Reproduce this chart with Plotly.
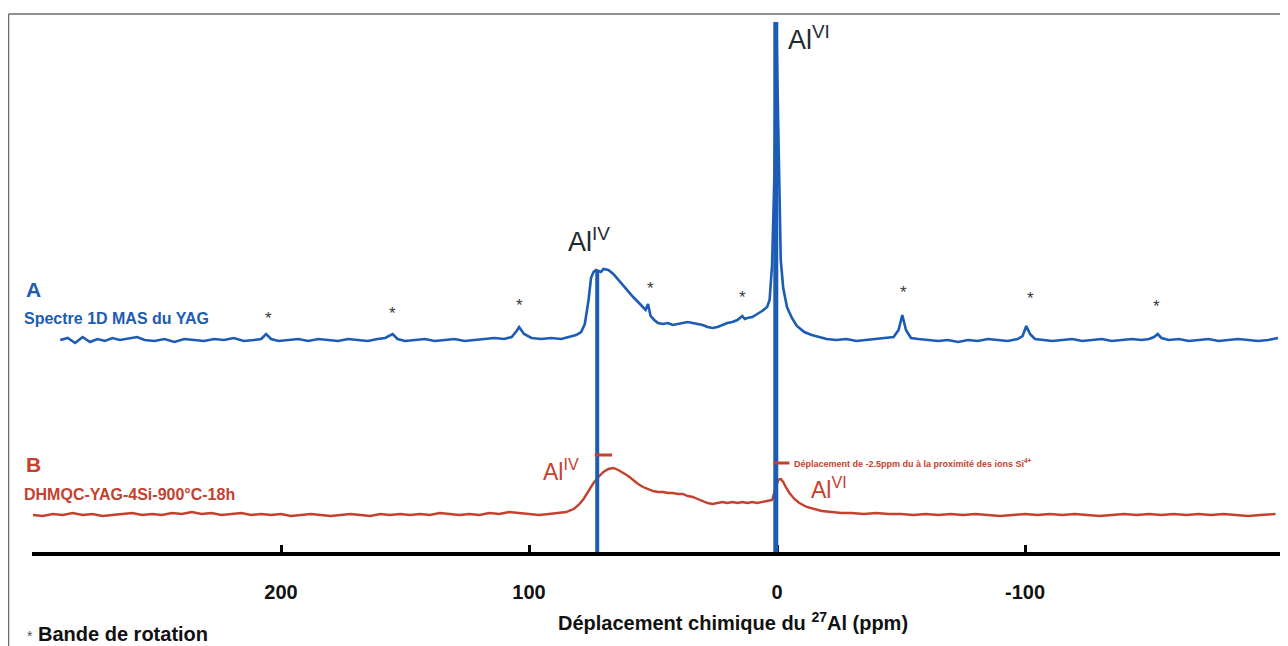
import plotly.graph_objects as go

# ---------------- data ----------------
# Spectrum A: 1D MAS 27Al of YAG (intensity relative to its baseline, arbitrary units)
blue_ppm = [289, 286, 283, 280, 277, 274, 271, 268, 265, 262,
            258, 255, 251, 247, 243, 239, 235, 231, 227, 223,
            219, 215, 211, 208, 206, 204, 201, 197, 193, 189,
            185, 181, 177, 173, 169, 165, 161, 158, 155, 153,
            150, 146, 142, 138, 134, 130, 126, 122, 118, 114,
            110, 107, 105, 104, 102, 99, 95, 91, 87, 84,
            81, 79, 77.5, 76, 75, 74, 73, 72, 71, 70,
            68, 66, 64, 62, 60, 58, 56, 54, 53, 52,
            51, 49.5, 48, 46, 44, 42, 40, 38, 36, 34,
            32, 30, 28, 26, 24, 22, 20, 18, 16, 14,
            13, 12, 10, 8, 6, 4, 3, 2, 1, 0.3,
            -0.5, -1.5, -2.5, -4, -6, -8, -11, -14, -17, -20,
            -24, -28, -32, -36, -40, -44, -47, -49, -50.5, -52,
            -54, -57, -61, -65, -69, -73, -77, -81, -85, -89,
            -93, -97, -99, -100.5, -102, -104, -107, -111, -115, -119,
            -123, -127, -131, -135, -139, -143, -147, -150, -152, -153.5,
            -155, -158, -162, -166, -170, -174, -178, -182, -186, -190,
            -194, -198, -202]
blue_int = [0, 2, -3, 3, -2, 1, -1, 2, 0, 1,
            3, 0, -1, 1, -2, 1, 0, -1, 1, 0,
            2, -1, 0, 1, 6, 1, -1, 0, 1, -1,
            1, 0, -1, 1, 0, -1, 1, 2, 6, 1,
            -1, 0, 1, -1, 0, 1, -1, 0, 1, 2,
            1, 3, 9, 13, 6, 2, 1, 2, 1, 3,
            5, 8, 16, 40, 62, 68, 70, 69, 68, 71,
            70, 66, 60, 54, 48, 43, 38, 33, 30, 36,
            24, 20, 17, 16, 17, 15, 16, 17, 18, 17,
            16, 15, 13, 12, 13, 15, 17, 18, 20, 24,
            21, 22, 23, 26, 29, 33, 40, 75, 170, 320,
            200, 80, 52, 33, 22, 14, 8, 5, 3, 1,
            0, 1, -1, 0, 1, 2, 3, 10, 25, 10,
            2, 1, 0, -1, 0, -2, 0, -1, 1, 0,
            -1, 1, 4, 14, 6, 1, 0, -1, 0, 1,
            -1, 0, 1, -1, 0, 1, 0, 1, 3, 6,
            2, 0, 1, -1, 0, 1, -1, 0, 1, 0,
            -1, 0, 2]

# Spectrum B: DHMQC YAG-4Si 900 C 18 h (intensity relative to its baseline)
red_ppm = [300, 296, 292, 288, 284, 280, 276, 272, 268, 264,
           260, 256, 252, 248, 244, 240, 236, 232, 228, 224,
           220, 216, 212, 208, 204, 200, 196, 192, 188, 184,
           180, 176, 172, 168, 164, 160, 156, 152, 148, 144,
           140, 136, 132, 128, 124, 120, 116, 112, 108, 104,
           100, 96, 92, 88, 85, 82, 80, 78, 76, 74,
           72, 70, 68, 66, 64, 62, 60, 58, 56, 54,
           52, 50, 48, 46, 44, 42, 40, 38, 36, 34,
           32, 30, 28, 26, 24, 22, 20, 18, 16, 14,
           12, 10, 8, 6, 4, 2, 0.5, -0.5, -1.5, -2.5,
           -3.5, -5, -7, -9, -12, -15, -18, -22, -26, -30,
           -35, -40, -45, -50, -55, -60, -65, -70, -75, -80,
           -85, -90, -95, -100, -105, -110, -115, -120, -125, -130,
           -135, -140, -145, -150, -155, -160, -165, -170, -175, -180,
           -185, -190, -195, -201]
red_int = [0, -1, 1, 0, 2, 0, 1, -1, 0, 1,
           2, 0, 1, 0, 2, 1, 3, 1, 2, 0,
           1, 2, 0, 1, 0, 1, -1, 0, 1, 0,
           -1, 0, 1, 0, -1, 1, 0, 1, 0, 1,
           0, 2, 1, 0, 1, 0, 2, 1, 3, 2,
           1, 0, 1, 2, 3, 6, 10, 16, 24, 32,
           38, 43, 46, 47, 45, 42, 39, 35, 31, 28,
           26, 24, 23, 23, 22, 22, 21, 21, 19, 18,
           16, 14, 12, 11, 12, 13, 12, 13, 12, 13,
           12, 13, 12, 13, 14, 15, 28, 35, 36, 33,
           28, 22, 16, 12, 8, 6, 4, 3, 2, 2,
           1, 2, 1, 1, 0, 1, 0, 1, 0, 1,
           0, -1, 0, 1, 0, 1, 0, 1, 0, -1,
           0, 1, 0, 1, 0, 1, 0, 1, 0, 1,
           0, -1, 0, 1]

# spinning sidebands (asterisks) and peak markers
sideband_ppm = [205, 155, 104, 51, 14, -51, -102, -153]
sideband_height = [22, 27, 35, 52, 43, 48, 42, 34]
site_ppm = [72.5, 0.5]                  # Al(IV), Al(VI) reference lines
shift_ppm = [[73.5, 66.5], [1.5, -5]]   # short red marks (shift of -2.5 ppm)

tick_vals = [200, 100, 0, -100]
tick_text = ["200", "100", "0", "-100"]

assert len(blue_ppm) == len(blue_int)
assert len(red_ppm) == len(red_int)

# ---------------- styling ----------------
BLUE = "#1c5cb6"
RED = "#c5412f"
DARK = "#1e2a32"
FONT = "Liberation Sans, Arial, sans-serif"
off_a = 212
off_b = 37

fig = go.Figure()
fig.add_trace(go.Scatter(x=blue_ppm, y=[v + off_a for v in blue_int], mode="lines",
                         line=dict(color=BLUE, width=2.6), hoverinfo="skip", showlegend=False))
fig.add_trace(go.Scatter(x=red_ppm, y=[v + off_b for v in red_int], mode="lines",
                         line=dict(color=RED, width=2.4), hoverinfo="skip", showlegend=False))

# vertical reference lines
fig.add_shape(type="line", xref="x", yref="y", x0=site_ppm[0], x1=site_ppm[0],
              y0=0, y1=off_a + 70, line=dict(color=BLUE, width=4))
fig.add_shape(type="line", xref="x", yref="y", x0=site_ppm[1], x1=site_ppm[1],
              y0=0, y1=530, line=dict(color=BLUE, width=5))
# short red marks
fig.add_shape(type="line", xref="x", yref="y", x0=shift_ppm[0][0], x1=shift_ppm[0][1],
              y0=97, y1=97, line=dict(color=RED, width=3))
fig.add_shape(type="line", xref="x", yref="y", x0=shift_ppm[1][0], x1=shift_ppm[1][1],
              y0=89, y1=89, line=dict(color=RED, width=3))

# frame
fig.add_shape(type="line", xref="paper", yref="paper", x0=-0.0188, x1=1.01, y0=1.0151, y1=1.0151,
              line=dict(color="#6d6d6d", width=1.5))
fig.add_shape(type="line", xref="paper", yref="paper", x0=-0.0188, x1=-0.0188, y0=-0.2, y1=1.0151,
              line=dict(color="#6d6d6d", width=1.5))

# asterisks
for p, h in zip(sideband_ppm, sideband_height):
    fig.add_annotation(x=p, y=h + off_a, text="*", showarrow=False, yanchor="middle",
                       font=dict(family=FONT, size=17, color="#3a3a3a"))

ann = []
ann.append(dict(x=76, y=312, text="Al<sup>IV</sup>", font=dict(family=FONT, size=27, color=DARK)))
ann.append(dict(x=-13, y=514, text="Al<sup>VI</sup>", font=dict(family=FONT, size=27, color=DARK)))
ann.append(dict(x=87, y=82, text="Al<sup>IV</sup>", font=dict(family=FONT, size=23, color=RED)))
ann.append(dict(x=-21, y=64, text="Al<sup>VI</sup>", font=dict(family=FONT, size=23, color=RED)))
for a in ann:
    fig.add_annotation(xref="x", yref="y", showarrow=False, xanchor="center", yanchor="middle", **a)

fig.add_annotation(xref="x", yref="y", x=-6, y=89, xanchor="left", yanchor="middle", showarrow=False,
                   text="<b>Déplacement de -2.5ppm du à la proximité des ions Si<sup>4+</sup></b>",
                   font=dict(family=FONT, size=9, color=RED))

fig.add_annotation(xref="paper", yref="y", x=-0.0065, y=263, xanchor="left", yanchor="middle",
                   showarrow=False, text="<b>A</b>", font=dict(family=FONT, size=21, color=BLUE))
fig.add_annotation(xref="paper", yref="y", x=-0.008, y=234, xanchor="left", yanchor="middle",
                   showarrow=False, text="<b>Spectre 1D MAS du YAG</b>",
                   font=dict(family=FONT, size=16, color=BLUE))
fig.add_annotation(xref="paper", yref="y", x=-0.0065, y=88, xanchor="left", yanchor="middle",
                   showarrow=False, text="<b>B</b>", font=dict(family=FONT, size=21, color=RED))
fig.add_annotation(xref="paper", yref="y", x=-0.008, y=58, xanchor="left", yanchor="middle",
                   showarrow=False, text="<b>DHMQC-YAG-4Si-900°C-18h</b>",
                   font=dict(family=FONT, size=16, color=RED))

fig.add_annotation(xref="paper", yref="paper", x=0.5617, y=-0.132, xanchor="center", yanchor="middle",
                   showarrow=False, text="<b>Déplacement chimique du <sup>27</sup>Al (ppm)</b>",
                   font=dict(family=FONT, size=20, color="#111111"))
fig.add_annotation(xref="paper", yref="paper", x=-0.006, y=-0.155, xanchor="left", yanchor="middle",
                   showarrow=False,
                   text="<span style='font-size:14px;color:#555555'>*</span> <b>Bande de rotation</b>",
                   font=dict(family=FONT, size=20, color="#111111"))

fig.update_layout(
    width=1280, height=638,
    margin=dict(l=24, r=8, t=14, b=94),
    paper_bgcolor="white", plot_bgcolor="white",
    xaxis=dict(range=[300.4, -202.8], tickvals=tick_vals, ticktext=tick_text,
               ticks="inside", ticklen=7, tickwidth=2.5, tickcolor="black",
               showline=True, linewidth=3.5, linecolor="black", showgrid=False, zeroline=False,
               ticklabelstandoff=19,
               tickfont=dict(family=FONT, size=20, color="#111111", weight="bold")),
    yaxis=dict(range=[0, 530], visible=False, showgrid=False, zeroline=False),
)

fig.write_html("out.html")
